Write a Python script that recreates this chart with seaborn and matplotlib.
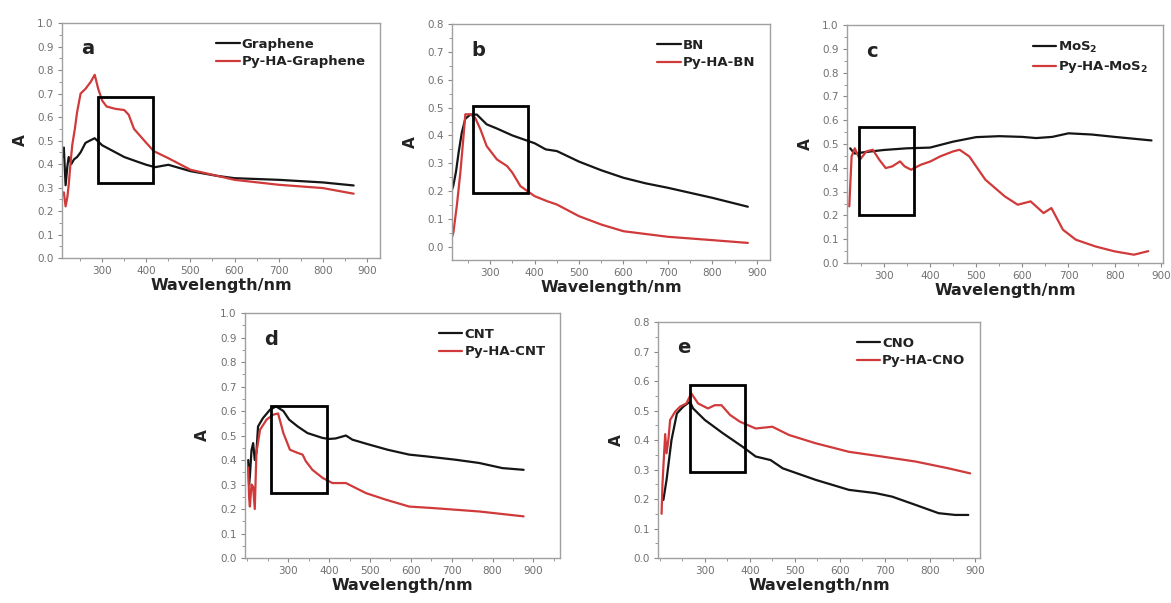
import numpy as np
import pandas as pd
import matplotlib
matplotlib.use("Agg")
import matplotlib.pyplot as plt
from matplotlib.patches import Rectangle
from matplotlib.ticker import AutoMinorLocator, MultipleLocator, FormatStrFormatter
import seaborn as sns

# ---- panel a : graphene ----
a_black_x = [210, 213, 217, 221, 224, 230, 236, 243, 251, 262, 272, 283, 300, 320, 350, 380, 400, 420, 450, 500, 560, 600, 700, 800, 870]
a_black_y = [0.43, 0.47, 0.31, 0.39, 0.43, 0.40, 0.42, 0.43, 0.45, 0.49, 0.50, 0.51, 0.48, 0.46, 0.43, 0.41, 0.397, 0.387, 0.397, 0.37, 0.35, 0.34, 0.333, 0.322, 0.309]
a_red_x = [210, 213, 217, 221, 224, 228, 232, 238, 243, 251, 262, 274, 283, 291, 300, 310, 330, 350, 360, 372, 386, 400, 417, 450, 500, 600, 700, 800, 870]
a_red_y = [0.27, 0.28, 0.22, 0.26, 0.31, 0.40, 0.48, 0.55, 0.62, 0.70, 0.72, 0.75, 0.78, 0.72, 0.67, 0.645, 0.635, 0.63, 0.61, 0.55, 0.52, 0.49, 0.455, 0.425, 0.376, 0.333, 0.312, 0.298, 0.274]

# ---- panel b : BN ----
b_black_x = [210, 213, 217, 223, 229, 236, 244, 255, 270, 292, 315, 350, 375, 400, 425, 450, 500, 550, 600, 650, 700, 800, 880]
b_black_y = [0.17, 0.20, 0.22, 0.27, 0.34, 0.41, 0.46, 0.475, 0.475, 0.44, 0.425, 0.40, 0.386, 0.372, 0.35, 0.344, 0.306, 0.275, 0.248, 0.228, 0.212, 0.176, 0.144]
b_red_x = [210, 213, 217, 225, 233, 239, 244, 255, 266, 278, 292, 315, 338, 350, 368, 400, 428, 450, 500, 550, 600, 700, 800, 880]
b_red_y = [0.0, 0.03, 0.05, 0.15, 0.27, 0.38, 0.476, 0.476, 0.464, 0.422, 0.362, 0.314, 0.29, 0.266, 0.218, 0.182, 0.164, 0.152, 0.11, 0.08, 0.056, 0.036, 0.024, 0.014]

# ---- panel c : MoS2 ----
c_black_x = [227, 232, 237, 255, 300, 350, 400, 450, 500, 550, 600, 630, 665, 700, 750, 800, 880]
c_black_y = [0.482, 0.47, 0.46, 0.465, 0.475, 0.482, 0.485, 0.51, 0.529, 0.533, 0.53, 0.525, 0.53, 0.545, 0.54, 0.53, 0.515]
c_red_x = [225, 230, 237, 248, 262, 276, 290, 304, 318, 335, 345, 359, 380, 401, 422, 450, 464, 485, 520, 562, 590, 618, 646, 663, 688, 716, 758, 800, 842, 873]
c_red_y = [0.238, 0.448, 0.482, 0.434, 0.469, 0.476, 0.434, 0.399, 0.406, 0.427, 0.406, 0.392, 0.413, 0.427, 0.448, 0.469, 0.476, 0.448, 0.35, 0.28, 0.245, 0.259, 0.21, 0.231, 0.14, 0.098, 0.07, 0.049, 0.035, 0.05]

# ---- panel d : CNT ----
d_black_x = [202, 204, 206, 210, 214, 218, 222, 226, 238, 255, 270, 288, 302, 323, 347, 384, 400, 416, 441, 457, 498, 543, 596, 637, 710, 767, 824, 876]
d_black_y = [0.40, 0.30, 0.333, 0.44, 0.469, 0.40, 0.43, 0.537, 0.571, 0.605, 0.619, 0.60, 0.565, 0.537, 0.51, 0.49, 0.486, 0.488, 0.50, 0.483, 0.463, 0.442, 0.422, 0.415, 0.401, 0.388, 0.367, 0.36]
d_red_x = [202, 204, 206, 210, 214, 218, 222, 231, 247, 263, 275, 288, 304, 323, 335, 343, 359, 384, 408, 441, 490, 539, 596, 653, 767, 876]
d_red_y = [0.37, 0.25, 0.21, 0.30, 0.29, 0.20, 0.43, 0.524, 0.565, 0.585, 0.59, 0.51, 0.442, 0.429, 0.422, 0.395, 0.36, 0.327, 0.306, 0.306, 0.265, 0.238, 0.21, 0.204, 0.19, 0.17]

# ---- panel e : CNO ----
e_black_x = [208, 215, 226, 238, 252, 267, 274, 300, 340, 384, 413, 446, 473, 546, 620, 679, 716, 768, 819, 856, 885]
e_black_y = [0.197, 0.265, 0.40, 0.49, 0.513, 0.53, 0.507, 0.468, 0.423, 0.377, 0.344, 0.332, 0.304, 0.265, 0.231, 0.22, 0.208, 0.18, 0.152, 0.146, 0.146]
e_red_x = [204, 206, 208, 212, 215, 219, 223, 234, 245, 259, 270, 285, 307, 322, 337, 356, 378, 413, 450, 487, 546, 620, 693, 768, 841, 889]
e_red_y = [0.15, 0.25, 0.31, 0.42, 0.355, 0.40, 0.468, 0.496, 0.513, 0.524, 0.558, 0.524, 0.507, 0.518, 0.518, 0.485, 0.462, 0.439, 0.445, 0.417, 0.389, 0.36, 0.344, 0.327, 0.304, 0.287]

panels = [
    dict(letter="a", names=["Graphene", "Py-HA-Graphene"],
         black=(a_black_x, a_black_y), red=(a_red_x, a_red_y),
         xlim=(209, 930), ylim=(0.0, 1.0), box=(291, 0.32, 415, 0.685),
         pos=[0.053, 0.572, 0.2716, 0.3897]),
    dict(letter="b", names=["BN", "Py-HA-BN"],
         black=(b_black_x, b_black_y), red=(b_red_x, b_red_y),
         xlim=(214, 930), ylim=(-0.047, 0.8), box=(262, 0.195, 385, 0.505),
         pos=[0.386, 0.569, 0.2716, 0.391]),
    dict(letter="c", names=["MoS$_\\mathbf{2}$", "Py-HA-MoS$_\\mathbf{2}$"],
         black=(c_black_x, c_black_y), red=(c_red_x, c_red_y),
         xlim=(220, 905), ylim=(0.0, 1.0), box=(247, 0.2, 365, 0.57),
         pos=[0.7233, 0.5638, 0.2699, 0.3947]),
    dict(letter="d", names=["CNT", "Py-HA-CNT"],
         black=(d_black_x, d_black_y), red=(d_red_x, d_red_y),
         xlim=(194, 965), ylim=(0.0, 1.0), box=(257, 0.265, 395, 0.62),
         pos=[0.2092, 0.0746, 0.269, 0.4063]),
    dict(letter="e", names=["CNO", "Py-HA-CNO"],
         black=(e_black_x, e_black_y), red=(e_red_x, e_red_y),
         xlim=(196, 911), ylim=(0.0, 0.8), box=(267, 0.29, 390, 0.585),
         pos=[0.5619, 0.0746, 0.275, 0.3914]),
]

sns.set_theme(style="white")
plt.rcParams["font.family"] = ["DejaVu Sans"]

fig = plt.figure(figsize=(11.71, 6.03), dpi=100)

for p in panels:
    ax = fig.add_axes(p["pos"])
    df = pd.concat([
        pd.DataFrame({"wl": p["black"][0], "A": p["black"][1], "s": p["names"][0]}),
        pd.DataFrame({"wl": p["red"][0], "A": p["red"][1], "s": p["names"][1]}),
    ])
    sns.lineplot(data=df, x="wl", y="A", hue="s", palette=["#151515", "#d03a3a"],
                 sort=False, estimator=None, lw=1.6, ax=ax)
    x0, y0, x1, y1 = p["box"]
    ax.add_patch(Rectangle((x0, y0), x1 - x0, y1 - y0, fill=False, ec="black", lw=2.0, zorder=5))

    ax.set_xlim(*p["xlim"])
    ax.set_ylim(*p["ylim"])
    ax.set_xticks(range(300, 1000, 100))
    ax.yaxis.set_major_locator(MultipleLocator(0.1))
    ax.xaxis.set_minor_locator(AutoMinorLocator(2))
    ax.yaxis.set_minor_locator(AutoMinorLocator(2))
    ax.yaxis.set_major_formatter(FormatStrFormatter("%.1f"))
    ax.tick_params(which="both", direction="out", colors="#888888", labelcolor="#707070",
                   labelsize=7.5, left=True, bottom=True)
    ax.tick_params(which="major", length=3, width=0.8, pad=3)
    ax.tick_params(which="minor", length=2, width=0.6)
    for s in ax.spines.values():
        s.set_color("#a0a0a0")
        s.set_linewidth(1.0)

    ax.set_xlabel("Wavelength/nm", fontsize=11.5, fontweight="bold", color="#222222", labelpad=1)
    ax.set_ylabel("A", fontsize=11, fontweight="bold", color="#222222", labelpad=7)
    ax.text(0.06, 0.89, p["letter"], transform=ax.transAxes, fontsize=14,
            fontweight="bold", color="#222222", va="center", ha="left")

    leg = ax.legend(loc="upper right", frameon=False, handlelength=1.8, handletextpad=0.15,
                    labelspacing=0.35, borderaxespad=0.7, prop={"weight": "bold", "size": 9.5})
    for t in leg.get_texts():
        t.set_color("#222222")

fig.savefig("out.png", dpi=100)
